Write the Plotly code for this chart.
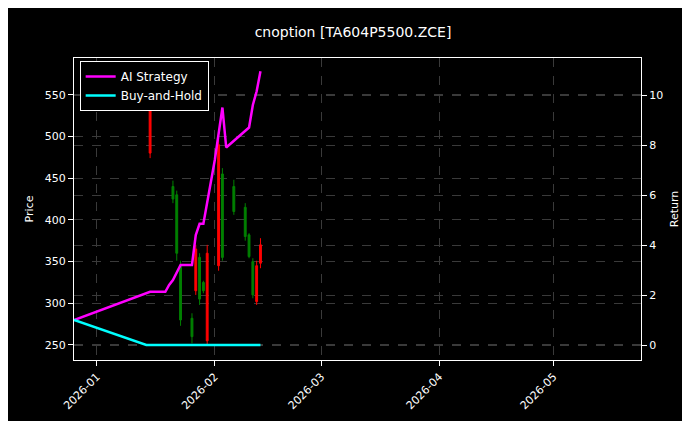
import plotly.graph_objects as go

# candle data
candle_dates = ['2026-01-15', '2026-01-21', '2026-01-22', '2026-01-23', '2026-01-26', '2026-01-27',
                '2026-01-28', '2026-01-29', '2026-01-30', '2026-02-02', '2026-02-03', '2026-02-06',
                '2026-02-09', '2026-02-10', '2026-02-11', '2026-02-12', '2026-02-13']
candle_open = [545, 425, 360, 280, 260, 365, 305, 315, 360, 490, 355, 410, 380, 356, 310, 345, 370]
candle_close = [480, 440, 430, 345, 282, 315, 355, 325, 255, 345, 455, 440, 415, 382, 350, 302, 348]
candle_high = [555, 447, 435, 351, 288, 370, 360, 327, 370, 498, 462, 448, 420, 384, 354, 351, 378]
candle_low = [474, 420, 351, 273, 252, 310, 298, 312, 250, 339, 351, 406, 375, 354, 306, 298, 342]

ai_dates = ['2025-12-26', '2026-01-14', '2026-01-15', '2026-01-19', '2026-01-20', '2026-01-21',
            '2026-01-23', '2026-01-26', '2026-01-27', '2026-01-28', '2026-01-29', '2026-02-01',
            '2026-02-03', '2026-02-04', '2026-02-10', '2026-02-11', '2026-02-12', '2026-02-13']
ai_return = [1.0, 2.08, 2.13, 2.13, 2.4, 2.6, 3.2, 3.2, 4.4, 4.85, 4.85, 7.4,
             9.5, 7.9, 8.7, 9.6, 10.15, 10.95]

bh_dates = ['2025-12-26', '2026-01-14', '2026-02-13']
bh_return = [1.0, 0.0, 0.0]

fig = go.Figure()
fig.add_trace(go.Candlestick(
    x=candle_dates, open=candle_open, high=candle_high, low=candle_low, close=candle_close,
    increasing=dict(line=dict(color='green', width=1), fillcolor='green'),
    decreasing=dict(line=dict(color='red', width=1), fillcolor='red'),
    whiskerwidth=0, showlegend=False))
fig.add_trace(go.Scatter(x=ai_dates, y=ai_return, mode='lines', name='AI Strategy',
                         line=dict(color='#ff00ff', width=2.5), yaxis='y2'))
fig.add_trace(go.Scatter(x=bh_dates, y=bh_return, mode='lines', name='Buy-and-Hold',
                         line=dict(color='#00ffff', width=2.5), yaxis='y2'))

grid = dict(showgrid=True, gridcolor='#3a3a3a', griddash='dash', gridwidth=0.5)
fig.update_layout(
    width=690, height=421,
    paper_bgcolor='black', plot_bgcolor='black',
    font=dict(family='DejaVu Sans', color='white', size=11),
    title=dict(text='cnoption [TA604P5500.ZCE]', x=0.5, xanchor='center', y=0.955, font=dict(size=14)),
    margin=dict(l=66, r=57, t=50, b=69),
    xaxis=dict(type='date', range=['2025-12-26', '2026-05-24'], rangeslider=dict(visible=False),
               tickvals=['2026-01-01', '2026-02-01', '2026-03-01', '2026-04-01', '2026-05-01'],
               tickformat='%Y-%m', tickangle=-45, ticks='outside', tickcolor='white',
               showline=True, linecolor='white', mirror=True, zeroline=False, automargin=False, **grid),
    yaxis=dict(title=dict(text='Price', font=dict(size=11), standoff=8), range=[232, 594], dtick=50,
               ticks='outside', tickcolor='white', automargin=False,
               showline=True, linecolor='white', mirror=True, zeroline=False, **grid),
    yaxis2=dict(title=dict(text='Return', font=dict(size=11), standoff=8), overlaying='y', side='right',
                range=[-0.6, 11.48], dtick=2, automargin=False,
                ticks='outside', tickcolor='white', zeroline=False, **grid),
    legend=dict(x=0.01, y=0.99, xanchor='left', yanchor='top', bgcolor='black',
                bordercolor='white', borderwidth=1, font=dict(size=12)),
)
fig.write_html('out.html')
